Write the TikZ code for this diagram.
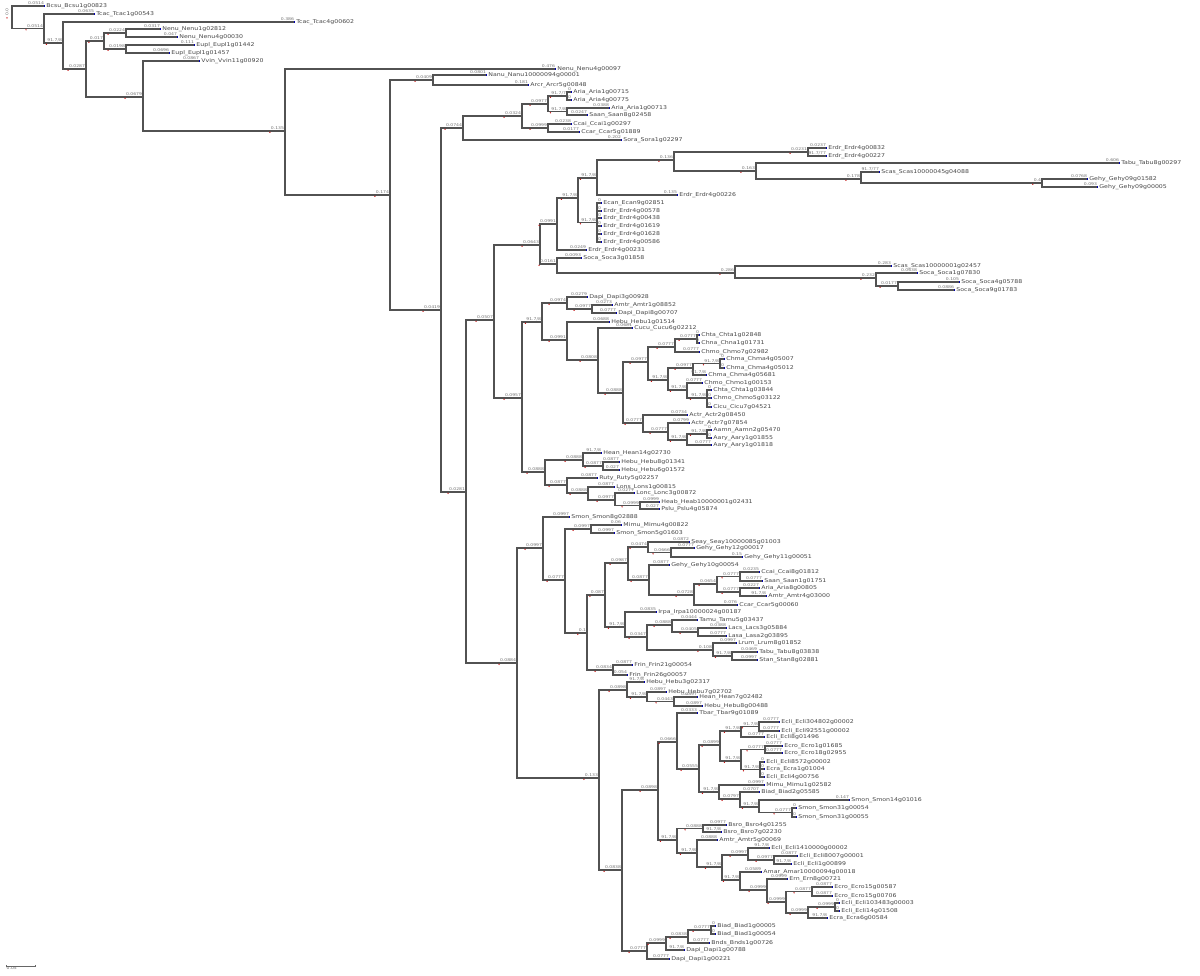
\documentclass[tikz,border=0pt]{standalone}
\usepackage{fontspec}
\newfontfamily\treefont[FakeStretch=1.2]{DejaVu Sans}
\usetikzlibrary{arrows.meta}

\begin{document}
\begin{tikzpicture}[
    x=1pt, y=-1pt,
    br/.style={draw=black!68, line width=1.2pt},
    lbr/.style={br, -{Square[length=1.4pt,width=1.8pt,color=blue!70!black]}},
    tip/.style={anchor=west, inner xsep=1.2pt, inner ysep=0.4pt, text=black!72, font=\treefont\fontsize{5.2}{5.2}\selectfont},
    ll/.style={pos=1, anchor=south east, inner sep=0.4pt, text=black!55, font=\treefont\fontsize{3.8}{3.8}\selectfont},
    il/.style={ll, label={[reddot]south west:{}}},
    reddot/.style={circle, fill=red!75!black, inner sep=0pt, minimum size=1.4pt, anchor=north},
]
    \useasboundingbox (0,0) rectangle (1200,976);

    % inner nodes
    \coordinate (n0) at (12,17.5);   \coordinate (n1) at (44,28.5);   \coordinate (n2) at (63,43);
    \coordinate (n3) at (86,69);     \coordinate (n4) at (104,41);    \coordinate (n5) at (126,33);
    \coordinate (n6) at (126,49);    \coordinate (n7) at (143,97);    \coordinate (n8) at (285,131);
    \coordinate (n9) at (390,195);   \coordinate (n10) at (433,80);   \coordinate (n11) at (441,310);
    \coordinate (n12) at (463,128);  \coordinate (n13) at (522,116);  \coordinate (n14) at (548,104);
    \coordinate (n15) at (567,96);   \coordinate (n16) at (567,111.5);\coordinate (n17) at (548,128);
    \coordinate (n18) at (466,492);  \coordinate (n19) at (494,320);  \coordinate (n20) at (540,245);
    \coordinate (n21) at (557,224);  \coordinate (n22) at (578,198);  \coordinate (n23) at (597,178);
    \coordinate (n24) at (674,160);  \coordinate (n25) at (808,152);  \coordinate (n26) at (756,171);
    \coordinate (n27) at (861,179);  \coordinate (n28) at (1042,183); \coordinate (n29) at (597,222.5);
    \coordinate (n30) at (557,264);  \coordinate (n31) at (735,273);  \coordinate (n32) at (876,278);
    \coordinate (n33) at (898,286);  \coordinate (n34) at (522,398);  \coordinate (n35) at (542,322);
    \coordinate (n36) at (567,303);  \coordinate (n37) at (592,309);  \coordinate (n38) at (567,340);
    \coordinate (n39) at (598,360);  \coordinate (n40) at (623,393);  \coordinate (n41) at (648,362);
    \coordinate (n42) at (675,347);  \coordinate (n43) at (697,339);  \coordinate (n44) at (668,380);
    \coordinate (n45) at (693,368);  \coordinate (n46) at (720,363.5);\coordinate (n47) at (687,390);
    \coordinate (n48) at (707,398);  \coordinate (n49) at (643,423);  \coordinate (n50) at (668,432);
    \coordinate (n51) at (687,440);  \coordinate (n52) at (707,434);  \coordinate (n53) at (545,472);
    \coordinate (n54) at (583,460);  \coordinate (n55) at (603,466);  \coordinate (n56) at (567,485);
    \coordinate (n57) at (588,493);  \coordinate (n58) at (615,500);  \coordinate (n59) at (640,505.5);
    \coordinate (n60) at (517,663);  \coordinate (n61) at (543,548);  \coordinate (n62) at (565,580);
    \coordinate (n63) at (591,529);  \coordinate (n64) at (587,633);  \coordinate (n65) at (605,595);
    \coordinate (n66) at (628,563);  \coordinate (n67) at (648,547);  \coordinate (n68) at (671,552.5);
    \coordinate (n69) at (649,580);  \coordinate (n70) at (694,595);  \coordinate (n71) at (717,584);
    \coordinate (n72) at (740,576.5);\coordinate (n73) at (740,592);  \coordinate (n74) at (625,627);
    \coordinate (n75) at (647,637);  \coordinate (n76) at (672,625);  \coordinate (n77) at (698,632);
    \coordinate (n78) at (713,650);  \coordinate (n79) at (732,656);  \coordinate (n80) at (613,670);
    \coordinate (n81) at (599,778);  \coordinate (n82) at (627,690);  \coordinate (n83) at (647,697);
    \coordinate (n84) at (674,701.5);\coordinate (n85) at (622,870);  \coordinate (n86) at (658,790);
    \coordinate (n87) at (677,742);  \coordinate (n88) at (699,769);  \coordinate (n89) at (720,745);
    \coordinate (n90) at (741,731);  \coordinate (n91) at (759,726.5);\coordinate (n92) at (741,761);
    \coordinate (n93) at (765,749.5);\coordinate (n94) at (760,769.5);\coordinate (n95) at (719,792);
    \coordinate (n96) at (740,799);  \coordinate (n97) at (759,807);  \coordinate (n98) at (792,812.5);
    \coordinate (n99) at (677,840);  \coordinate (n100) at (703,828.5);\coordinate (n101) at (697,853);
    \coordinate (n102) at (722,867); \coordinate (n103) at (748,855); \coordinate (n104) at (774,860);
    \coordinate (n105) at (740,880); \coordinate (n106) at (767,890); \coordinate (n107) at (786,902);
    \coordinate (n108) at (812,891.5);\coordinate (n109) at (808,913);\coordinate (n110) at (835,907);
    \coordinate (n111) at (647,951); \coordinate (n112) at (666,943); \coordinate (n113) at (688,937);
    \coordinate (n114) at (711,930);

    % inner branches
    \draw[br] (n0) |- (n1) node[il] {0.0514};
    \draw[br] (n1) |- (n2) node[il] {91.7/8};
    \draw[br] (n2) |- (n3) node[il] {0.0287};
    \draw[br] (n3) |- (n4) node[il] {0.017};
    \draw[br] (n4) |- (n5) node[il] {0.0224};
    \draw[br] (n4) |- (n6) node[il] {0.0198};
    \draw[br] (n3) |- (n7) node[il] {0.0679};
    \draw[br] (n7) |- (n8) node[il] {0.135};
    \draw[br] (n8) |- (n9) node[il] {0.174};
    \draw[br] (n9) |- (n10) node[il] {0.0409};
    \draw[br] (n9) |- (n11) node[il] {0.0419};
    \draw[br] (n11) |- (n12) node[il] {0.0744};
    \draw[br] (n12) |- (n13) node[il] {0.0324};
    \draw[br] (n13) |- (n14) node[il] {0.0977};
    \draw[br] (n14) |- (n15) node[il] {91.7/7};
    \draw[br] (n14) |- (n16) node[il] {91.7/8};
    \draw[br] (n13) |- (n17) node[il] {0.0999};
    \draw[br] (n11) |- (n18) node[il] {0.0281};
    \draw[br] (n18) |- (n19) node[il] {0.0507};
    \draw[br] (n19) |- (n20) node[il] {0.0643};
    \draw[br] (n20) |- (n21) node[il] {0.0991};
    \draw[br] (n21) |- (n22) node[il] {91.7/8};
    \draw[br] (n22) |- (n23) node[il] {91.7/8};
    \draw[br] (n23) |- (n24) node[il] {0.136};
    \draw[br] (n24) |- (n25) node[il] {0.0231};
    \draw[br] (n24) |- (n26) node[il] {0.163};
    \draw[br] (n26) |- (n27) node[il] {0.178};
    \draw[br] (n27) |- (n28) node[il] {0.4};
    \draw[br] (n22) |- (n29) node[il] {91.7/8};
    \draw[br] (n20) |- (n30) node[il] {0.0161};
    \draw[br] (n30) |- (n31) node[il] {0.286};
    \draw[br] (n31) |- (n32) node[il] {0.232};
    \draw[br] (n32) |- (n33) node[il] {0.0177};
    \draw[br] (n19) |- (n34) node[il] {0.0957};
    \draw[br] (n34) |- (n35) node[il] {91.7/8};
    \draw[br] (n35) |- (n36) node[il] {0.0974};
    \draw[br] (n36) |- (n37) node[il] {0.0977};
    \draw[br] (n35) |- (n38) node[il] {0.0991};
    \draw[br] (n38) |- (n39) node[il] {0.0808};
    \draw[br] (n39) |- (n40) node[il] {0.0888};
    \draw[br] (n40) |- (n41) node[il] {0.0977};
    \draw[br] (n41) |- (n42) node[il] {0.0777};
    \draw[br] (n42) |- (n43) node[il] {0.0777};
    \draw[br] (n41) |- (n44) node[il] {91.7/8};
    \draw[br] (n44) |- (n45) node[il] {0.0977};
    \draw[br] (n45) |- (n46) node[il] {91.7/8};
    \draw[br] (n44) |- (n47) node[il] {91.7/8};
    \draw[br] (n47) |- (n48) node[il] {91.7/8};
    \draw[br] (n40) |- (n49) node[il] {0.0777};
    \draw[br] (n49) |- (n50) node[il] {0.0777};
    \draw[br] (n50) |- (n51) node[il] {91.7/8};
    \draw[br] (n51) |- (n52) node[il] {91.7/8};
    \draw[br] (n34) |- (n53) node[il] {0.0888};
    \draw[br] (n53) |- (n54) node[il] {0.0888};
    \draw[br] (n54) |- (n55) node[il] {0.0877};
    \draw[br] (n53) |- (n56) node[il] {0.0877};
    \draw[br] (n56) |- (n57) node[il] {0.0888};
    \draw[br] (n57) |- (n58) node[il] {0.0977};
    \draw[br] (n58) |- (n59) node[il] {0.0999};
    \draw[br] (n18) |- (n60) node[il] {0.0884};
    \draw[br] (n60) |- (n61) node[il] {0.0997};
    \draw[br] (n61) |- (n62) node[il] {0.0777};
    \draw[br] (n62) |- (n63) node[il] {0.0997};
    \draw[br] (n62) |- (n64) node[il] {0.1};
    \draw[br] (n64) |- (n65) node[il] {0.087};
    \draw[br] (n65) |- (n66) node[il] {0.0987};
    \draw[br] (n66) |- (n67) node[il] {0.0474};
    \draw[br] (n67) |- (n68) node[il] {0.0666};
    \draw[br] (n66) |- (n69) node[il] {0.0877};
    \draw[br] (n69) |- (n70) node[il] {0.0728};
    \draw[br] (n70) |- (n71) node[il] {0.0654};
    \draw[br] (n71) |- (n72) node[il] {0.0777};
    \draw[br] (n71) |- (n73) node[il] {0.0777};
    \draw[br] (n65) |- (n74) node[il] {91.7/8};
    \draw[br] (n74) |- (n75) node[il] {0.0347};
    \draw[br] (n75) |- (n76) node[il] {0.0888};
    \draw[br] (n76) |- (n77) node[il] {0.0405};
    \draw[br] (n75) |- (n78) node[il] {0.108};
    \draw[br] (n78) |- (n79) node[il] {91.7/8};
    \draw[br] (n64) |- (n80) node[il] {0.0834};
    \draw[br] (n60) |- (n81) node[il] {0.133};
    \draw[br] (n81) |- (n82) node[il] {0.0898};
    \draw[br] (n82) |- (n83) node[il] {91.7/8};
    \draw[br] (n83) |- (n84) node[il] {0.0443};
    \draw[br] (n81) |- (n85) node[il] {0.0838};
    \draw[br] (n85) |- (n86) node[il] {0.0898};
    \draw[br] (n86) |- (n87) node[il] {0.0666};
    \draw[br] (n87) |- (n88) node[il] {0.0555};
    \draw[br] (n88) |- (n89) node[il] {0.0899};
    \draw[br] (n89) |- (n90) node[il] {91.7/8};
    \draw[br] (n90) |- (n91) node[il] {91.7/8};
    \draw[br] (n89) |- (n92) node[il] {91.7/8};
    \draw[br] (n92) |- (n93) node[il] {0.0777};
    \draw[br] (n92) |- (n94) node[il] {91.7/8};
    \draw[br] (n88) |- (n95) node[il] {91.7/8};
    \draw[br] (n95) |- (n96) node[il] {0.0797};
    \draw[br] (n96) |- (n97) node[il] {91.7/8};
    \draw[br] (n97) |- (n98) node[il] {0.0777};
    \draw[br] (n86) |- (n99) node[il] {91.7/8};
    \draw[br] (n99) |- (n100) node[il] {0.0888};
    \draw[br] (n99) |- (n101) node[il] {91.7/8};
    \draw[br] (n101) |- (n102) node[il] {91.7/8};
    \draw[br] (n102) |- (n103) node[il] {0.0997};
    \draw[br] (n103) |- (n104) node[il] {0.0977};
    \draw[br] (n102) |- (n105) node[il] {91.7/8};
    \draw[br] (n105) |- (n106) node[il] {0.0999};
    \draw[br] (n106) |- (n107) node[il] {0.0999};
    \draw[br] (n107) |- (n108) node[il] {0.0877};
    \draw[br] (n107) |- (n109) node[il] {0.0999};
    \draw[br] (n109) |- (n110) node[il] {0.0999};
    \draw[br] (n85) |- (n111) node[il] {0.0777};
    \draw[br] (n111) |- (n112) node[il] {0.0999};
    \draw[br] (n112) |- (n113) node[il] {0.0838};
    \draw[br] (n113) |- (n114) node[il] {0.0777};

    % leaves
    \node[tip] (L1) at (45,6) {Bcsu\_Bcsu1g00823};          \draw[lbr] (n0) |- (L1) node[ll] {0.0514};
    \node[tip] (L2) at (95,14) {Tcac\_Tcac1g00543};         \draw[lbr] (n1) |- (L2) node[ll] {0.0635};
    \node[tip] (L3) at (295,22) {Tcac\_Tcac4g00602};        \draw[lbr] (n2) |- (L3) node[ll] {0.386};
    \node[tip] (L4) at (161,29) {Nenu\_Nenu1g02812};        \draw[lbr] (n5) |- (L4) node[ll] {0.0317};
    \node[tip] (L5) at (178,37) {Nenu\_Nenu4g00030};        \draw[lbr] (n5) |- (L5) node[ll] {0.047};
    \node[tip] (L6) at (195,45) {Eupl\_Eupl1g01442};        \draw[lbr] (n6) |- (L6) node[ll] {0.111};
    \node[tip] (L7) at (170,53) {Eupl\_Eupl1g01457};        \draw[lbr] (n6) |- (L7) node[ll] {0.0696};
    \node[tip] (L8) at (200,61) {Vvin\_Vvin11g00920};       \draw[lbr] (n7) |- (L8) node[ll] {0.0867};
    \node[tip] (L9) at (556,69) {Nenu\_Nenu4g00097};        \draw[lbr] (n8) |- (L9) node[ll] {0.476};
    \node[tip] (L10) at (487,75) {Nanu\_Nanu10000094g00001};\draw[lbr] (n10) |- (L10) node[ll] {0.0801};
    \node[tip] (L11) at (529,85) {Arcr\_Arcr5g00848};       \draw[lbr] (n10) |- (L11) node[ll] {0.181};
    \node[tip] (L12) at (572,92) {Aria\_Aria1g00715};       \draw[lbr] (n15) |- (L12) node[ll] {0};
    \node[tip] (L13) at (572,100) {Aria\_Aria4g00775};      \draw[lbr] (n15) |- (L13) node[ll] {0};
    \node[tip] (L14) at (610,108) {Aria\_Aria1g00713};      \draw[lbr] (n16) |- (L14) node[ll] {0.0388};
    \node[tip] (L15) at (588,115) {Saan\_Saan8g02458};      \draw[lbr] (n16) |- (L15) node[ll] {0.0247};
    \node[tip] (L16) at (572,124) {Ccai\_Ccai1g00297};      \draw[lbr] (n17) |- (L16) node[ll] {0.0238};
    \node[tip] (L17) at (580,132) {Ccar\_Ccar5g01889};      \draw[lbr] (n17) |- (L17) node[ll] {0.0177};
    \node[tip] (L18) at (622,140) {Sora\_Sora1g02297};      \draw[lbr] (n12) |- (L18) node[ll] {0.202};
    \node[tip] (L19) at (827,148) {Erdr\_Erdr4g00832};      \draw[lbr] (n25) |- (L19) node[ll] {0.0237};
    \node[tip] (L20) at (827,156) {Erdr\_Erdr4g00227};      \draw[lbr] (n25) |- (L20) node[ll] {91.7/77};
    \node[tip] (L21) at (1120,163) {Tabu\_Tabu8g00297};     \draw[lbr] (n26) |- (L21) node[ll] {0.606};
    \node[tip] (L22) at (880,172) {Scas\_Scas10000045g04088};\draw[lbr] (n27) |- (L22) node[ll] {91.7/77};
    \node[tip] (L23) at (1088,179) {Gehy\_Gehy09g01582};    \draw[lbr] (n28) |- (L23) node[ll] {0.0768};
    \node[tip] (L24) at (1098,187) {Gehy\_Gehy09g00005};    \draw[lbr] (n28) |- (L24) node[ll] {0.093};
    \node[tip] (L25) at (678,195) {Erdr\_Erdr4g00226};      \draw[lbr] (n23) |- (L25) node[ll] {0.135};
    \node[tip] (L26) at (602,203) {Ecan\_Ecan9g02851};      \draw[lbr] (n29) |- (L26) node[ll] {0};
    \node[tip] (L27) at (602,211) {Erdr\_Erdr4g00578};      \draw[lbr] (n29) |- (L27) node[ll] {0};
    \node[tip] (L28) at (602,218) {Erdr\_Erdr4g00438};      \draw[lbr] (n29) |- (L28) node[ll] {0};
    \node[tip] (L29) at (602,226) {Erdr\_Erdr4g01619};      \draw[lbr] (n29) |- (L29) node[ll] {0};
    \node[tip] (L30) at (602,234) {Erdr\_Erdr4g01628};      \draw[lbr] (n29) |- (L30) node[ll] {0};
    \node[tip] (L31) at (602,242) {Erdr\_Erdr4g00586};      \draw[lbr] (n29) |- (L31) node[ll] {0};
    \node[tip] (L32) at (587,250) {Erdr\_Erdr4g00231};      \draw[lbr] (n21) |- (L32) node[ll] {0.0249};
    \node[tip] (L33) at (582,258) {Soca\_Soca3g01858};      \draw[lbr] (n30) |- (L33) node[ll] {0.0093};
    \node[tip] (L34) at (892,266) {Scas\_Scas10000001g02457};\draw[lbr] (n31) |- (L34) node[ll] {0.283};
    \node[tip] (L35) at (918,273) {Soca\_Soca1g07830};      \draw[lbr] (n32) |- (L35) node[ll] {0.0638};
    \node[tip] (L36) at (960,282) {Soca\_Soca4g05788};      \draw[lbr] (n33) |- (L36) node[ll] {0.105};
    \node[tip] (L37) at (955,290) {Soca\_Soca9g01783};      \draw[lbr] (n33) |- (L37) node[ll] {0.0886};
    \node[tip] (L38) at (588,297) {Dapi\_Dapi3g00928};      \draw[lbr] (n36) |- (L38) node[ll] {0.0279};
    \node[tip] (L39) at (613,305) {Amtr\_Amtr1g08852};      \draw[lbr] (n37) |- (L39) node[ll] {0.0273};
    \node[tip] (L40) at (617,313) {Dapi\_Dapi8g00707};      \draw[lbr] (n37) |- (L40) node[ll] {0.0777};
    \node[tip] (L41) at (610,322) {Hebu\_Hebu1g01514};      \draw[lbr] (n38) |- (L41) node[ll] {0.0688};
    \node[tip] (L42) at (633,328) {Cucu\_Cucu6g02212};      \draw[lbr] (n39) |- (L42) node[ll] {0.0681};
    \node[tip] (L43) at (700,335) {Chta\_Chta1g02848};      \draw[lbr] (n43) |- (L43) node[ll] {0};
    \node[tip] (L44) at (700,343) {Chna\_Chna1g01731};      \draw[lbr] (n43) |- (L44) node[ll] {0};
    \node[tip] (L45) at (700,352) {Chmo\_Chmo7g02982};      \draw[lbr] (n42) |- (L45) node[ll] {0.0777};
    \node[tip] (L46) at (725,359) {Chma\_Chma4g05007};      \draw[lbr] (n46) |- (L46) node[ll] {0};
    \node[tip] (L47) at (725,368) {Chma\_Chma4g05012};      \draw[lbr] (n46) |- (L47) node[ll] {0};
    \node[tip] (L48) at (707,375) {Chma\_Chma4g05681};      \draw[lbr] (n45) |- (L48) node[ll] {91.7/8};
    \node[tip] (L49) at (703,383) {Chmo\_Chmo1g00153};      \draw[lbr] (n47) |- (L49) node[ll] {0.0777};
    \node[tip] (L50) at (712,390) {Chta\_Chta1g03844};      \draw[lbr] (n48) |- (L50) node[ll] {0};
    \node[tip] (L51) at (712,398) {Chmo\_Chmo5g03122};      \draw[lbr] (n48) |- (L51) node[ll] {0};
    \node[tip] (L52) at (712,407) {Cicu\_Cicu7g04521};      \draw[lbr] (n48) |- (L52) node[ll] {0};
    \node[tip] (L53) at (688,415) {Actr\_Actr2g08450};      \draw[lbr] (n49) |- (L53) node[ll] {0.0734};
    \node[tip] (L54) at (690,423) {Actr\_Actr7g07854};      \draw[lbr] (n50) |- (L54) node[ll] {0.0799};
    \node[tip] (L55) at (712,430) {Aamn\_Aamn2g05470};      \draw[lbr] (n52) |- (L55) node[ll] {0};
    \node[tip] (L56) at (712,438) {Aary\_Aary1g01855};      \draw[lbr] (n52) |- (L56) node[ll] {0};
    \node[tip] (L57) at (712,445) {Aary\_Aary1g01818};      \draw[lbr] (n51) |- (L57) node[ll] {0.0777};
    \node[tip] (L58) at (602,453) {Hean\_Hean14g02730};     \draw[lbr] (n54) |- (L58) node[ll] {91.7/8};
    \node[tip] (L59) at (620,462) {Hebu\_Hebu8g01341};      \draw[lbr] (n55) |- (L59) node[ll] {0.0877};
    \node[tip] (L60) at (620,470) {Hebu\_Hebu6g01572};      \draw[lbr] (n55) |- (L60) node[ll] {0.027};
    \node[tip] (L61) at (598,478) {Ruty\_Ruty5g02257};      \draw[lbr] (n56) |- (L61) node[ll] {0.0877};
    \node[tip] (L62) at (615,487) {Lons\_Lons1g00815};      \draw[lbr] (n57) |- (L62) node[ll] {0.0877};
    \node[tip] (L63) at (635,493) {Lonc\_Lonc3g00872};      \draw[lbr] (n58) |- (L63) node[ll] {0.0277};
    \node[tip] (L64) at (660,502) {Heab\_Heab10000001g02431};\draw[lbr] (n59) |- (L64) node[ll] {0.0999};
    \node[tip] (L65) at (660,509) {Pslu\_Pslu4g05874};      \draw[lbr] (n59) |- (L65) node[ll] {0.027};
    \node[tip] (L66) at (570,517) {Smon\_Smon8g02888};      \draw[lbr] (n61) |- (L66) node[ll] {0.0997};
    \node[tip] (L67) at (622,525) {Mimu\_Mimu4g00822};      \draw[lbr] (n63) |- (L67) node[ll] {0.06};
    \node[tip] (L68) at (615,533) {Smon\_Smon5g01603};      \draw[lbr] (n63) |- (L68) node[ll] {0.0997};
    \node[tip] (L69) at (690,542) {Seay\_Seay10000085g01003};\draw[lbr] (n67) |- (L69) node[ll] {0.0872};
    \node[tip] (L70) at (695,548) {Gehy\_Gehy12g00017};     \draw[lbr] (n68) |- (L70) node[ll] {0.0777};
    \node[tip] (L71) at (743,557) {Gehy\_Gehy11g00051};     \draw[lbr] (n68) |- (L71) node[ll] {0.15};
    \node[tip] (L72) at (670,565) {Gehy\_Gehy10g00054};     \draw[lbr] (n69) |- (L72) node[ll] {0.0877};
    \node[tip] (L73) at (760,572) {Ccai\_Ccai8g01812};      \draw[lbr] (n72) |- (L73) node[ll] {0.0235};
    \node[tip] (L74) at (763,581) {Saan\_Saan1g01751};      \draw[lbr] (n72) |- (L74) node[ll] {0.0777};
    \node[tip] (L75) at (760,588) {Aria\_Aria8g00805};      \draw[lbr] (n73) |- (L75) node[ll] {0.0227};
    \node[tip] (L76) at (767,596) {Amtr\_Amtr4g03000};      \draw[lbr] (n73) |- (L76) node[ll] {91.7/8};
    \node[tip] (L77) at (738,605) {Ccar\_Ccar5g00060};      \draw[lbr] (n70) |- (L77) node[ll] {0.076};
    \node[tip] (L78) at (657,612) {Irpa\_Irpa10000024g00187};\draw[lbr] (n74) |- (L78) node[ll] {0.0835};
    \node[tip] (L79) at (698,620) {Tamu\_Tamu5g03437};      \draw[lbr] (n76) |- (L79) node[ll] {0.0444};
    \node[tip] (L80) at (727,628) {Lacs\_Lacs3g05884};      \draw[lbr] (n77) |- (L80) node[ll] {0.0388};
    \node[tip] (L81) at (727,636) {Lasa\_Lasa2g03895};      \draw[lbr] (n77) |- (L81) node[ll] {0.0777};
    \node[tip] (L82) at (737,643) {Lrum\_Lrum8g01852};      \draw[lbr] (n78) |- (L82) node[ll] {0.0997};
    \node[tip] (L83) at (758,652) {Tabu\_Tabu8g03838};      \draw[lbr] (n79) |- (L83) node[ll] {0.0469};
    \node[tip] (L84) at (758,660) {Stan\_Stan8g02881};      \draw[lbr] (n79) |- (L84) node[ll] {0.0997};
    \node[tip] (L85) at (633,665) {Frin\_Frin21g00054};     \draw[lbr] (n80) |- (L85) node[ll] {0.0877};
    \node[tip] (L86) at (628,675) {Frin\_Frin26g00057};     \draw[lbr] (n80) |- (L86) node[ll] {0.054};
    \node[tip] (L87) at (645,682) {Hebu\_Hebu3g02317};      \draw[lbr] (n82) |- (L87) node[ll] {91.7/8};
    \node[tip] (L88) at (667,692) {Hebu\_Hebu7g02702};      \draw[lbr] (n83) |- (L88) node[ll] {0.0897};
    \node[tip] (L89) at (698,697) {Hean\_Hean7g02482};      \draw[lbr] (n84) |- (L89) node[ll] {0.0897};
    \node[tip] (L90) at (703,706) {Hebu\_Hebu8g00488};      \draw[lbr] (n84) |- (L90) node[ll] {0.0897};
    \node[tip] (L91) at (698,713) {Tbar\_Tbar9g01089};      \draw[lbr] (n87) |- (L91) node[ll] {0.0333};
    \node[tip] (L92) at (780,722) {Ecli\_Ecli304802g00002}; \draw[lbr] (n91) |- (L92) node[ll] {0.0777};
    \node[tip] (L93) at (780,731) {Ecli\_Ecli92551g00002};  \draw[lbr] (n91) |- (L93) node[ll] {0.0777};
    \node[tip] (L94) at (765,737) {Ecli\_Ecli8g01496};      \draw[lbr] (n90) |- (L94) node[ll] {0.0777};
    \node[tip] (L95) at (783,746) {Ecro\_Ecro1g01685};      \draw[lbr] (n93) |- (L95) node[ll] {0.0777};
    \node[tip] (L96) at (783,753) {Ecro\_Ecro18g02955};     \draw[lbr] (n93) |- (L96) node[ll] {0.0777};
    \node[tip] (L97) at (765,762) {Ecli\_Ecli8572g00002};   \draw[lbr] (n94) |- (L97) node[ll] {0};
    \node[tip] (L98) at (765,769) {Ecra\_Ecra1g01004};      \draw[lbr] (n94) |- (L98) node[ll] {0};
    \node[tip] (L99) at (765,777) {Ecli\_Ecli4g00756};      \draw[lbr] (n94) |- (L99) node[ll] {0};
    \node[tip] (L100) at (765,785) {Mimu\_Mimu1g02582};     \draw[lbr] (n95) |- (L100) node[ll] {0.0997};
    \node[tip] (L101) at (760,792) {Biad\_Biad2g05585};     \draw[lbr] (n96) |- (L101) node[ll] {0.0707};
    \node[tip] (L102) at (850,800) {Smon\_Smon14g01016};    \draw[lbr] (n97) |- (L102) node[ll] {0.147};
    \node[tip] (L103) at (797,808) {Smon\_Smon31g00054};    \draw[lbr] (n98) |- (L103) node[ll] {0};
    \node[tip] (L104) at (797,817) {Smon\_Smon31g00055};    \draw[lbr] (n98) |- (L104) node[ll] {0};
    \node[tip] (L105) at (727,825) {Bsro\_Bsro4g01255};     \draw[lbr] (n100) |- (L105) node[ll] {0.0977};
    \node[tip] (L106) at (722,832) {Bsro\_Bsro7g02230};     \draw[lbr] (n100) |- (L106) node[ll] {91.7/8};
    \node[tip] (L107) at (718,840) {Amtr\_Amtr5g00069};     \draw[lbr] (n101) |- (L107) node[ll] {0.0888};
    \node[tip] (L108) at (770,848) {Ecli\_Ecli1410000g00002};\draw[lbr] (n103) |- (L108) node[ll] {91.7/8};
    \node[tip] (L109) at (798,856) {Ecli\_Ecli8007g00001};  \draw[lbr] (n104) |- (L109) node[ll] {0.0877};
    \node[tip] (L110) at (792,864) {Ecli\_Ecli1g00899};     \draw[lbr] (n104) |- (L110) node[ll] {91.7/8};
    \node[tip] (L111) at (762,872) {Amar\_Amar10000094g00018};\draw[lbr] (n105) |- (L111) node[ll] {0.0589};
    \node[tip] (L112) at (788,879) {Ern\_Ern8g00721};       \draw[lbr] (n106) |- (L112) node[ll] {0.0999};
    \node[tip] (L113) at (833,887) {Ecro\_Ecro15g00587};    \draw[lbr] (n108) |- (L113) node[ll] {0.0877};
    \node[tip] (L114) at (833,896) {Ecro\_Ecro15g00706};    \draw[lbr] (n108) |- (L114) node[ll] {0.0877};
    \node[tip] (L115) at (840,903) {Ecli\_Ecli103483g00003};\draw[lbr] (n110) |- (L115) node[ll] {0};
    \node[tip] (L116) at (840,911) {Ecli\_Ecli14g01508};    \draw[lbr] (n110) |- (L116) node[ll] {0};
    \node[tip] (L117) at (828,918) {Ecra\_Ecra6g00584};     \draw[lbr] (n109) |- (L117) node[ll] {91.7/8};
    \node[tip] (L118) at (716,926) {Biad\_Biad1g00005};     \draw[lbr] (n114) |- (L118) node[ll] {0};
    \node[tip] (L119) at (716,934) {Biad\_Biad1g00054};     \draw[lbr] (n114) |- (L119) node[ll] {0};
    \node[tip] (L120) at (710,943) {Bnds\_Bnds1g00726};     \draw[lbr] (n113) |- (L120) node[ll] {0.0777};
    \node[tip] (L121) at (685,950) {Dapi\_Dapi1g00788};     \draw[lbr] (n112) |- (L121) node[ll] {91.7/8};
    \node[tip] (L122) at (670,959) {Dapi\_Dapi1g00221};     \draw[lbr] (n111) |- (L122) node[ll] {0.0777};

    % root mark and scale bar
    \node[text=black!55, inner sep=0pt, rotate=90, font=\treefont\fontsize{3.8}{3.8}\selectfont] (rootlbl) at (7,12) {0.0};
    \node[reddot] (rootdot) at (7,17) {};
    \coordinate (sb0) at (6,966);
    \coordinate (sb1) at (36,966);
    \draw[black!60, line width=0.6pt, {Bar[width=2.5pt]}-{Bar[width=2.5pt]}] (sb0) -- (sb1);
    \node[anchor=north west, inner sep=0.5pt, text=black!60, font=\treefont\fontsize{3.8}{3.8}\selectfont] (sblbl) at (sb0) {0.05};
\end{tikzpicture}
\end{document}
